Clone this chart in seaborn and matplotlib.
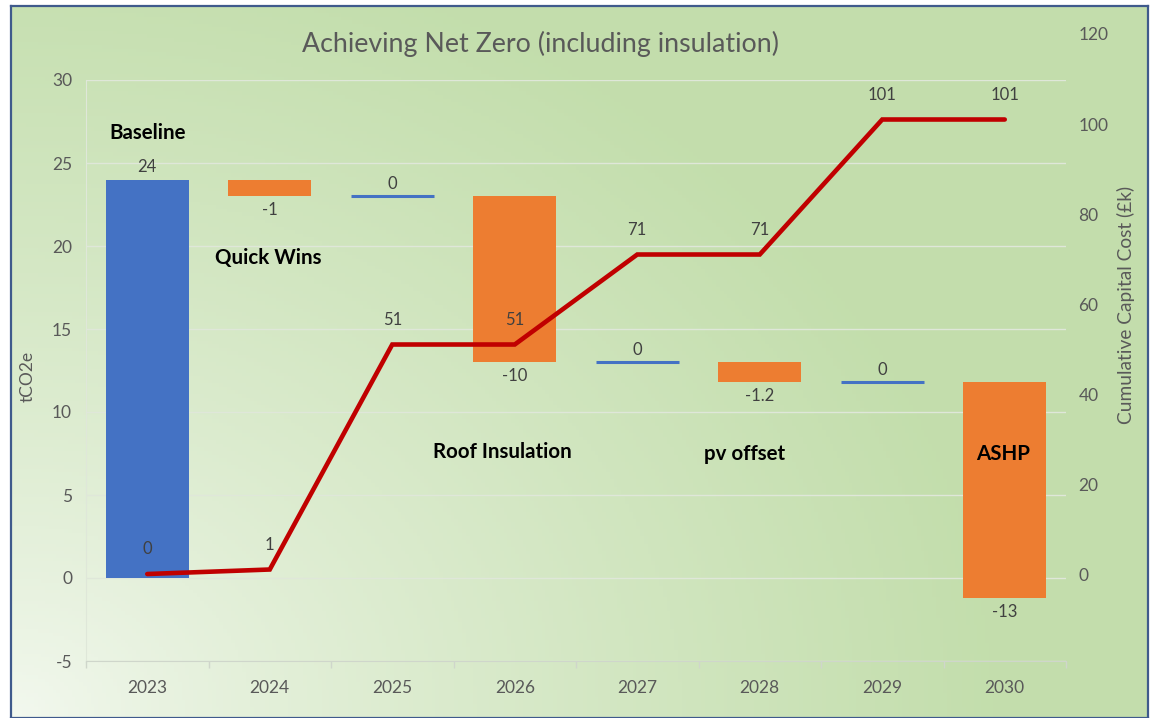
#Bibliotecas utilizadas
import numpy as np
import pandas as pd
import seaborn as sns
import matplotlib.pyplot as plt

sns.set_style("white")
plt.rcParams['font.family'] = ['Lato', 'DejaVu Sans']
plt.rcParams['axes.unicode_minus'] = False

#Dados
years = ['2023', '2024', '2025', '2026', '2027', '2028', '2029', '2030']
co2_change = [24, -1, 0, -10, 0, -1.2, 0, -13]
co2_labels = ['24', '-1', '0', '-10', '0', '-1.2', '0', '-13']
capital_cost = [0, 1, 51, 51, 71, 71, 101, 101]

blue = '#4472C4'
orange = '#ED7D31'
red = '#C00000'
grey = '#595959'

#Waterfall: base de cada barra
levels = np.cumsum(co2_change)
bottoms = np.concatenate([[0], levels[:-1]])
df = pd.DataFrame({'year': years, 'change': co2_change, 'bottom': bottoms})

fig = plt.figure(figsize=(11.52, 7.18), dpi=100)

#Fundo em gradiente
bg = fig.add_axes([11/1152, 0, 1137/1152, 712/718], zorder=-10)
xx, yy = np.meshgrid(np.linspace(0, 1, 300), np.linspace(1, 0, 200))
d = np.clip(np.sqrt((1.15*xx)**2 + (0.9*yy)**2), 0, 1) ** 0.8
light = np.array([0.955, 0.975, 0.94])
green = np.array([0.765, 0.87, 0.675])
img = light[None, None, :]*(1-d[..., None]) + green[None, None, :]*d[..., None]
bg.imshow(img, aspect='auto', extent=[0, 1, 0, 1])
bg.set_xticks([]); bg.set_yticks([])
for s in bg.spines.values():
    s.set_color('#3F5A8C'); s.set_linewidth(1.6)

#Eixo principal (tCO2e)
ax = fig.add_axes([86/1152, 57/718, 980/1152, 581/718], zorder=1)
ax.patch.set_alpha(0)
sns.barplot(data=df, x='year', y='change', bottom=df['bottom'], color=blue,
            saturation=1, width=0.68, linewidth=0, ax=ax)
for i, p in enumerate(ax.patches):
    if co2_change[i] < 0:
        p.set_facecolor(orange)
    elif co2_change[i] == 0:
        p.set_edgecolor(blue); p.set_linewidth(2.2)

#Rotulos das barras
for i, v in enumerate(co2_change):
    if v >= 0:
        ax.annotate(co2_labels[i], (i, levels[i]), xytext=(0, 9), textcoords='offset points',
                    ha='center', va='center', fontsize=12, color='#404040')
    else:
        ax.annotate(co2_labels[i], (i, levels[i]), xytext=(0, -10), textcoords='offset points',
                    ha='center', va='center', fontsize=12, color='#404040')

#Nomes das etapas
kw = dict(ha='center', va='center', fontsize=14.8, fontweight='bold', color='black')
ax.text(0, 26.8, 'Baseline', **kw)
ax.text(0.99, 19.3, 'Quick Wins', **kw)
ax.text(2.9, 7.6, 'Roof Insulation', **kw)
ax.text(4.88, 7.5, 'pv offset', **kw)
ax.text(6.99, 7.5, 'ASHP', **kw)

ax.set_xlim(-0.5, 7.5)
ax.set_ylim(-5, 30)
ax.set_yticks(range(-5, 31, 5))
ax.set_xticks(range(8), years)
ax.set_xticks(np.arange(-0.5, 8, 1), minor=True)
ax.tick_params(axis='y', length=0, pad=10, labelsize=12.5, labelcolor=grey)
ax.tick_params(axis='x', which='major', length=0, pad=14, labelsize=12.5, labelcolor=grey)
ax.tick_params(axis='x', which='minor', length=5, width=1, color='#cfd6cb', bottom=True)
ax.grid(axis='y', color='#dfe7d9', linewidth=1)
ax.set_axisbelow(True)
ax.set_xlabel('')
ax.set_ylabel('')
for s in ['top', 'right']:
    ax.spines[s].set_visible(False)
ax.spines['left'].set_color('#dfe7d9')
ax.spines['bottom'].set_color('#cfd6cb')

#Eixo secundario (custo)
ax2 = fig.add_axes([86/1152, 57/718, 980/1152, 627/718], zorder=2)
ax2.patch.set_alpha(0)
sns.lineplot(x=list(range(8)), y=capital_cost, color=red, linewidth=3.3, ax=ax2,
             solid_capstyle='round', solid_joinstyle='miter')
for i, c in enumerate(capital_cost):
    ax2.annotate(str(c), (i, c), xytext=(0, 18), textcoords='offset points',
                 ha='center', va='center', fontsize=12, color='#404040')
ax2.set_xlim(-0.5, 7.5)
ax2.set_ylim(-19.33, 120)
ax2.set_yticks(range(0, 121, 20))
ax2.set_xticks([])
ax2.yaxis.tick_right()
ax2.tick_params(axis='y', length=0, pad=9, labelsize=12.5, labelcolor=grey)
for s in ax2.spines.values():
    s.set_visible(False)

#Titulo e rotulos dos eixos
fig.text(541/1152, 1-44/718, 'Achieving Net Zero (including insulation)', ha='center', va='center',
         fontsize=19.3, color=grey)
fig.text(28/1152, 1-376/718, 'tCO2e', rotation=90, ha='center', va='center', fontsize=12.5, color=grey)
fig.text(1126/1152, 1-305/718, 'Cumulative Capital Cost (£k)', rotation=90, ha='center', va='center',
         fontsize=13.8, color=grey)

plt.savefig('out.png', dpi=100)
